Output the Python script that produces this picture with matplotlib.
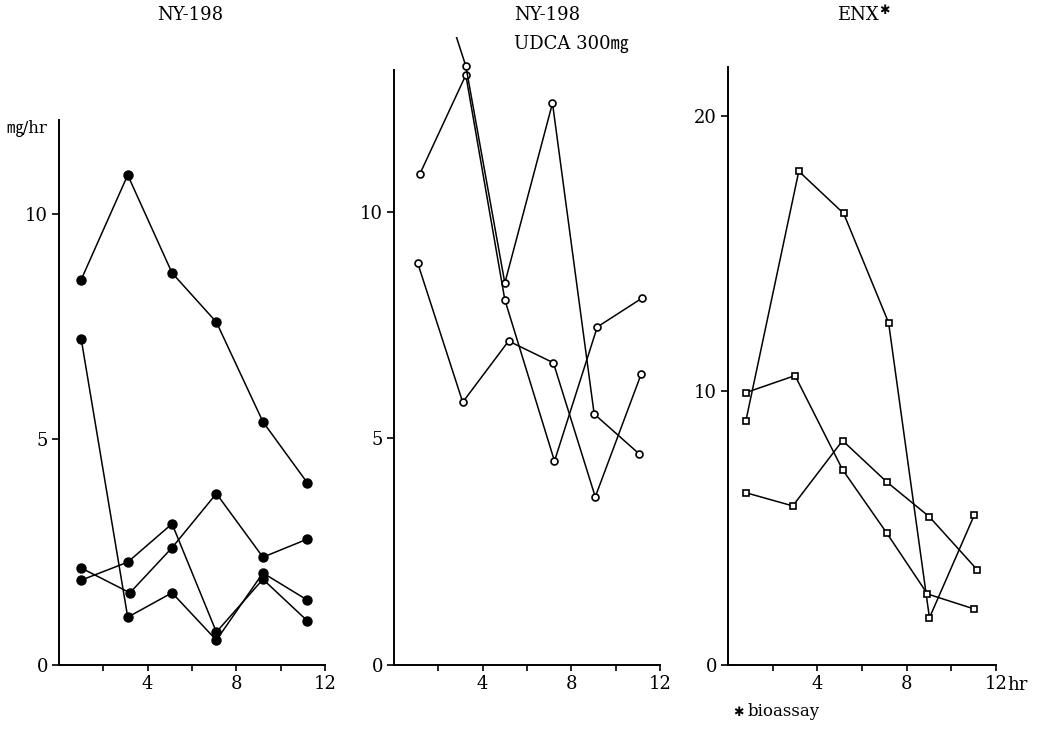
import matplotlib
matplotlib.use("Agg")
import matplotlib.pyplot as plt
from matplotlib.ticker import FixedLocator

plt.rcParams['font.family'] = ['DejaVu Serif', 'Noto Sans CJK JP', 'DejaVu Sans']

#####################################################################
# Data (mg/hr vs hours)
#####################################################################
# NY-198
left_x = [[1.0, 3.1, 5.1, 7.1, 9.2, 11.2],
          [1.0, 3.1, 5.1, 7.1, 9.2, 11.2],
          [1.0, 3.2, 5.1, 7.1, 9.2, 11.2],
          [1.0, 3.1, 5.1, 7.1, 9.2, 11.2]]
left_y = [[8.54, 10.86, 8.69, 7.60, 5.39, 4.04],
          [7.23, 1.06, 1.60, 0.55, 2.04, 1.44],
          [2.15, 1.60, 2.60, 3.80, 2.39, 2.79],
          [1.88, 2.28, 3.13, 0.73, 1.90, 0.98]]

# NY-198 + UDCA 300mg
mid_x = [[1.07, 3.1, 5.17, 7.19, 9.08, 11.15],
         [1.17, 3.24, 5.0, 7.24, 9.17, 11.2],
         [1.0, 3.24, 5.0, 7.15, 9.03, 11.06]]
mid_y = [[8.87, 5.80, 7.15, 6.67, 3.71, 6.42],
         [10.84, 13.02, 8.06, 4.50, 7.46, 8.10],
         [16.6, 13.22, 8.43, 12.40, 5.54, 4.66]]

# ENX (bioassay)
right_x = [[0.8, 3.17, 5.18, 7.19, 9.02, 11.03],
           [0.8, 3.0, 5.13, 7.1, 8.93, 11.03],
           [0.8, 2.9, 5.13, 7.1, 9.02, 11.16]]
right_y = [[8.9, 18.0, 16.46, 12.48, 1.72, 5.47],
           [9.93, 10.55, 7.12, 4.82, 2.59, 2.04],
           [6.28, 5.80, 8.18, 6.68, 5.40, 3.47]]

x_major = [4, 8, 12]
x_minor = [2, 6, 10]

#####################################################################
# Plotting
#####################################################################
W, H = 1039, 730
fig = plt.figure(figsize=(W / 100, H / 100), dpi=100)


def px_axes(x0, x1, y0, y1):
    # pixel box -> figure fraction
    return fig.add_axes([x0 / W, 1 - y0 / H, (x1 - x0) / W, (y0 - y1) / H])


def style(ax, ylim, spine_top, yticks):
    ax.set_xlim(0, 12)
    ax.set_ylim(0, ylim)
    for s in ['top', 'right']:
        ax.spines[s].set_visible(False)
    for s in ['left', 'bottom']:
        ax.spines[s].set_linewidth(1.4)
    ax.spines['left'].set_bounds(0, spine_top)
    ax.set_yticks(yticks)
    ax.set_yticklabels([str(t) for t in yticks])
    ax.xaxis.set_major_locator(FixedLocator(x_major))
    ax.xaxis.set_minor_locator(FixedLocator(x_minor))
    ax.set_xticklabels([str(t) for t in x_major])
    ax.tick_params(axis='both', which='major', labelsize=13, width=1.2,
                   length=5, pad=3)
    ax.tick_params(axis='x', which='minor', width=1.2, length=4)
    ax.tick_params(axis='x', which='major', length=4)
    ax.patch.set_alpha(0)


line_kw = dict(color='black', linewidth=1.1)

ax1 = px_axes(59, 325, 665, 120)
for xs, ys in zip(left_x, left_y):
    ax1.plot(xs, ys, marker='o', markersize=6.5, markerfacecolor='black',
             markeredgecolor='black', **line_kw)
style(ax1, 12.08, 12.08, [0, 5, 10])

ax2 = px_axes(394, 660, 665, 37)
for xs, ys in zip(mid_x, mid_y):
    ax2.plot(xs, ys, marker='o', markersize=5, markerfacecolor='white',
             markeredgecolor='black', markeredgewidth=1.2, **line_kw)
style(ax2, 13.86, 13.13, [0, 5, 10])

ax3 = px_axes(728, 996, 665, 67)
for xs, ys in zip(right_x, right_y):
    ax3.plot(xs, ys, marker='s', markersize=5, markerfacecolor='white',
             markeredgecolor='black', markeredgewidth=1.2, **line_kw)
style(ax3, 21.8, 21.8, [0, 10, 20])
ax3.annotate('hr', xy=(12, 0), xycoords='data', xytext=(8, -8),
             textcoords='offset points', ha='left', va='top', fontsize=13,
             annotation_clip=False)

# titles and labels
fig.text(190 / W, 1 - 15 / H, 'NY-198', ha='center', va='center', fontsize=13)
fig.text(514 / W, 1 - 15 / H, 'NY-198', ha='left', va='center', fontsize=13)
fig.text(514 / W, 1 - 44 / H, 'UDCA 300\u338e', ha='left', va='center', fontsize=13)
fig.text(858 / W, 1 - 15 / H, 'ENX', ha='center', va='center', fontsize=13)
fig.text(879 / W, 1 - 10 / H, '\u2731', ha='left', va='center', fontsize=9,
         family=['DejaVu Sans'])
fig.text(6 / W, 1 - 128 / H, '\u338e/hr', ha='left', va='center', fontsize=12)
fig.text(733 / W, 1 - 712 / H, '\u2731', ha='left', va='center', fontsize=9,
         family=['DejaVu Sans'])
fig.text(748 / W, 1 - 712 / H, 'bioassay', ha='left', va='center', fontsize=12)

fig.savefig('out.png', dpi=100)
